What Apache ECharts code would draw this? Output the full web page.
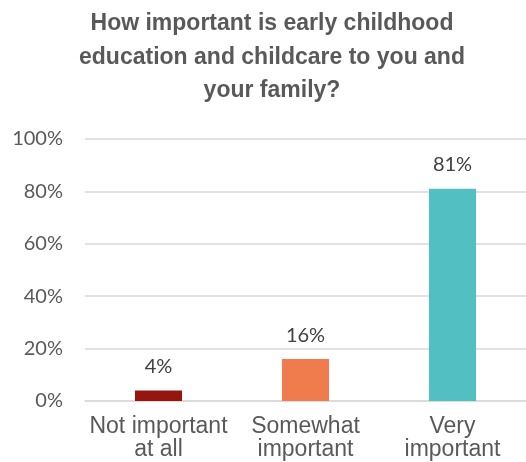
<!DOCTYPE html>
<html>
<head>
<meta charset="utf-8">
<script src="https://cdn.jsdelivr.net/npm/echarts@6/dist/echarts.min.js"></script>
<style>
  html, body { margin: 0; padding: 0; background: #fff; }
  #chart { width: 526px; height: 462px; }
</style>
</head>
<body>
<div id="chart"></div>
<script>
// 数据
const categories = ['Not important\nat all', 'Somewhat\nimportant', 'Very\nimportant']
const values = [4, 16, 81]
const barColors = ['#96160F', '#F07C4E', '#52BFC3']
const yTicks = [0, 20, 40, 60, 80, 100]

const chart = echarts.init(document.getElementById('chart'))

const option = {
    title: {
        text: 'How important is early childhood\neducation and childcare to you and\nyour family?',
        left: 267,
        textAlign: 'center',
        top: 2,
        textStyle: {
            fontFamily: 'Liberation Sans',
            fontWeight: 'bold',
            fontSize: 23,
            lineHeight: 33.5,
            color: '#595959'
        }
    },
    grid: {
        left: 85,
        width: 444,
        top: 139,
        bottom: 61
    },
    xAxis: {
        type: 'category',
        data: categories,
        axisLine: { lineStyle: { color: '#d9d9d9', width: 1.5 } },
        axisTick: { show: false },
        axisLabel: {
            interval: 0,
            fontFamily: 'Liberation Sans',
            fontSize: 23,
            lineHeight: 23,
            color: '#595959',
            margin: 14
        }
    },
    yAxis: {
        type: 'value',
        min: yTicks[0],
        max: yTicks[yTicks.length - 1],
        interval: 20,
        axisLine: { show: false },
        axisTick: { show: false },
        splitLine: { lineStyle: { color: '#d9d9d9', width: 1.5 } },
        axisLabel: {
            formatter: '{value}%',
            fontFamily: 'Lato',
            fontSize: 20,
            color: '#595959',
            margin: 22
        }
    },
    series: [{
        type: 'bar',
        data: values.map((v, i) => ({ value: v, itemStyle: { color: barColors[i] } })),
        barWidth: '32%',
        label: {
            show: true,
            position: 'top',
            distance: 14,
            formatter: '{c}%',
            fontFamily: 'Lato',
            fontSize: 20,
            color: '#404040'
        }
    }]
}

chart.setOption(option)
</script>
</body>
</html>
